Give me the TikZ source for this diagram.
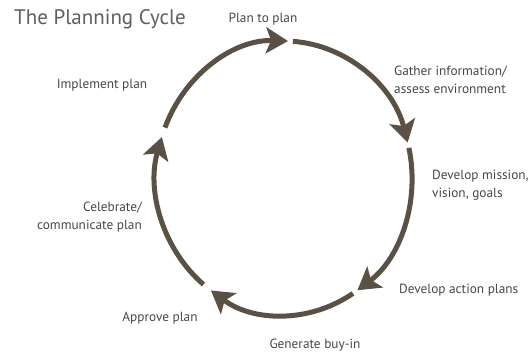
\documentclass[tikz,border=0pt]{standalone}
\usepackage{fontspec}
\setmainfont{PT Sans}
\usetikzlibrary{arrows.meta,calc}
\definecolor{arrowc}{HTML}{5B5044}
\definecolor{textc}{HTML}{474747}
\definecolor{titlec}{HTML}{5E5E5E}
\tikzset{
  cyc/.style={draw=arrowc, line width=5pt, -{Stealth[length=22pt,width=26pt,inset=5pt]}},
  lbl/.style={text=textc, font=\fontsize{13.3}{17.5}\selectfont, inner sep=0pt},
}
\begin{document}
\begin{tikzpicture}[x=1pt,y=1pt]
\useasboundingbox (0,0) rectangle (532,354);
\coordinate (c) at (284,176);
% arc endpoints
\coordinate (s1) at ($(c)+(158.4:128pt and 137pt)$);
\coordinate (s2) at ($(c)+(86:128pt and 137pt)$);
\coordinate (s3) at ($(c)+(12.7:128pt and 137pt)$);
\coordinate (s4) at ($(c)+(-57.4:128pt and 137pt)$);
\coordinate (s5) at ($(c)+(-129:128pt and 137pt)$);
\draw[cyc] (s1) arc[start angle=158.4, end angle=88.2, x radius=128pt, y radius=137pt];
\draw[cyc] (s2) arc[start angle=86, end angle=15, x radius=128pt, y radius=137pt];
\draw[cyc] (s3) arc[start angle=12.7, end angle=-55, x radius=128pt, y radius=137pt];
\draw[cyc] (s4) arc[start angle=-57.4, end angle=-124.8, x radius=128pt, y radius=137pt];
\draw[cyc] (s5) arc[start angle=-129, end angle=-197.4, x radius=128pt, y radius=137pt];
% labels
\node[anchor=west, text=titlec, font=\fontsize{21}{24}\selectfont, inner sep=0pt] (title) at (14,335) {The Planning Cycle};
\node[lbl] (p1) at (263,335) {Plan to plan};
\node[lbl, anchor=west, align=left] (p2) at (394,274) {Gather information/\\assess environment};
\node[lbl, anchor=west, align=left] (p3) at (432,169) {Develop mission,\\vision, goals};
\node[lbl, anchor=west] (p4) at (399,64) {Develop action plans};
\node[lbl] (p5) at (315,9) {Generate buy-in};
\node[lbl] (p6) at (160,36) {Approve plan};
\node[lbl, anchor=east, align=right] (p7) at (142,137) {Celebrate/\\communicate plan};
\node[lbl] (p8) at (102,269) {Implement plan};
\end{tikzpicture}
\end{document}
